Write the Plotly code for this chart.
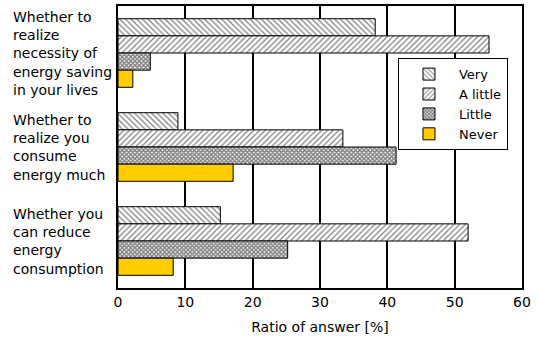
import plotly.graph_objects as go

categories = ["Q1", "Q2", "Q3"]
category_labels = [
    "Whether to<br>realize<br>necessity of<br>energy saving<br>in your lives",
    "Whether to<br>realize you<br>consume<br>energy much",
    "Whether you<br>can reduce<br>energy<br>consumption",
]
series_names = ["Very", "A little", "Little", "Never"]
very = [38.2, 8.9, 15.2]
a_little = [55.1, 33.4, 52.0]
little = [4.8, 41.3, 25.2]
never = [2.2, 17.1, 8.2]
x_ticks = [0, 10, 20, 30, 40, 50, 60]

FONT = "DejaVu Sans, Verdana, sans-serif"
values = [very, a_little, little, never]
patterns = [
    dict(shape="\\", fgcolor="black", bgcolor="white", size=4, solidity=0.3, fillmode="overlay"),
    dict(shape="/", fgcolor="black", bgcolor="white", size=4, solidity=0.3, fillmode="overlay"),
    dict(shape="x", fgcolor="black", bgcolor="white", size=3, solidity=0.7, fillmode="overlay"),
    None,
]
colors = ["white", "white", "white", "#FFCC00"]

fig = go.Figure()
for name, vals, pat, col in zip(series_names, values, patterns, colors):
    marker = dict(color=col, line=dict(color="black", width=1))
    if pat is not None:
        marker["pattern"] = pat
    fig.add_trace(go.Bar(y=categories, x=vals, name=name, orientation="h", marker=marker))

for cat, lab in zip(categories, category_labels):
    fig.add_annotation(x=-0.265, y=cat, xref="paper", yref="y", text=lab, showarrow=False,
                       xanchor="left", yanchor="middle", align="left",
                       font=dict(family=FONT, size=14, color="black"))

fig.update_layout(
    width=540, height=341,
    margin=dict(l=118, r=18, t=4, b=53),
    paper_bgcolor="white", plot_bgcolor="white",
    barmode="group", bargap=0.27, bargroupgap=0,
    font=dict(family=FONT, size=14, color="black"),
    showlegend=True,
    legend=dict(x=0.693, y=0.815, xanchor="left", yanchor="top",
                bgcolor="white", bordercolor="black", borderwidth=1,
                font=dict(family=FONT, size=13), tracegroupgap=0,
                itemwidth=50),
)
fig.update_xaxes(range=[0, 60], tickvals=x_ticks, showgrid=True, gridcolor="black", gridwidth=1.5,
                 showline=True, linecolor="black", linewidth=1.5, mirror=True, zeroline=False,
                 ticks="", title=dict(text="Ratio of answer [%]", font=dict(family=FONT, size=14), standoff=14),
                 tickfont=dict(family=FONT, size=14))
fig.update_yaxes(autorange="reversed", showticklabels=False, showgrid=False, showline=True,
                 linecolor="black", linewidth=1.5, mirror=True, ticks="")

fig.write_html("out.html", config={"displayModeBar": False},
               post_script="document.body.style.margin='0';document.body.style.padding='0';")
